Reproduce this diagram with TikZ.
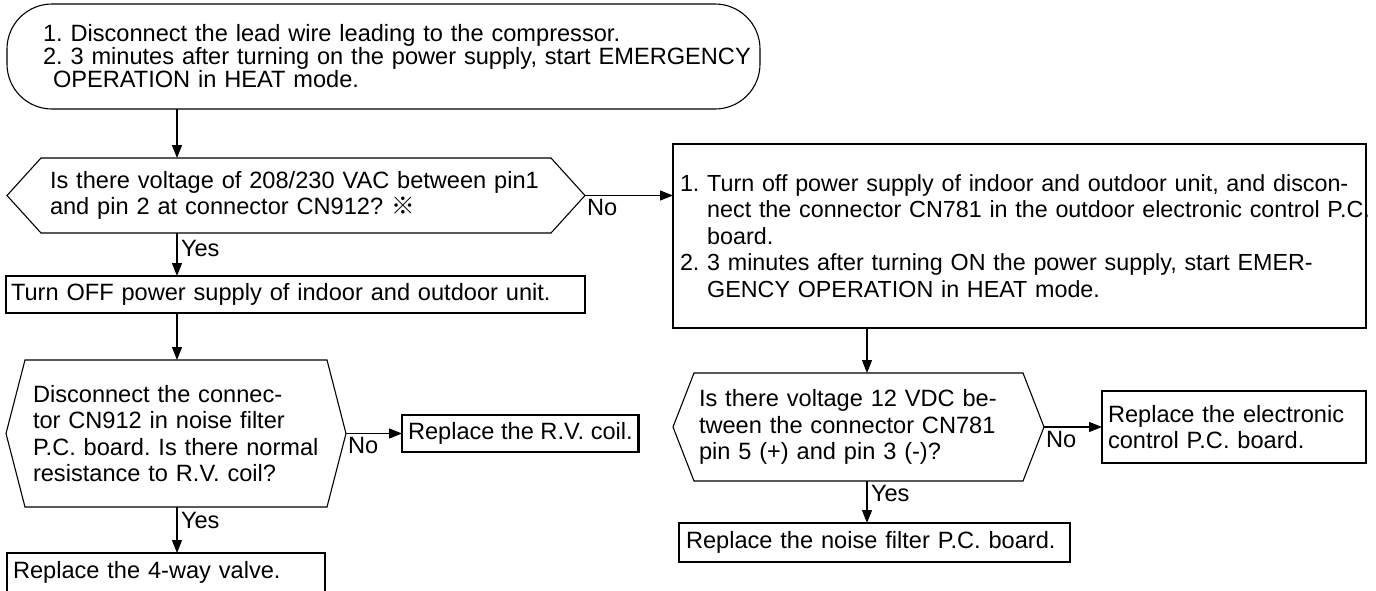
\documentclass[tikz,border=0pt]{standalone}
\usepackage{fontspec}
\setmainfont{Liberation Sans}
\newfontfamily\cjkfont{Noto Sans CJK JP}
\usetikzlibrary{arrows.meta}

% hexagon round a decision node: #1 node, #2 depth of the points
\newcommand{\hexagon}[2]{%
  \draw (#1.west) -- ([xshift=#2pt]#1.north west) -- ([xshift=-#2pt]#1.north east)
    -- (#1.east) -- ([xshift=-#2pt]#1.south east) -- ([xshift=#2pt]#1.south west) -- cycle;}
\newcommand{\numhang}{\hphantom{1.\ }}

\begin{document}
\frenchspacing
\begin{tikzpicture}[x=1pt, y=-1pt, line width=1.1pt,
  every node/.style={font=\fontsize{23.6}{26.5}\selectfont, outer sep=0pt},
  box/.style={draw, align=left, inner ysep=0pt},
  result/.style={box, line width=2.6pt},
  question/.style={align=left, inner ysep=0pt},
  flow/.style={-{Triangle[length=13pt,width=10pt]}},
  answer/.style={anchor=west, inner sep=0pt, xshift=4pt},
  noanswer/.style={anchor=north west, inner sep=0pt, xshift=2pt, yshift=-4pt}]
  \useasboundingbox (0,0) rectangle (1376,590);

  % columns of the vertical connectors
  \coordinate (lcol) at (177,0);
  \coordinate (rcol) at (867,0);

  % start
  \node[box, rounded corners=45pt, minimum width=753pt, minimum height=105pt,
        inner xsep=36pt, text width=681pt,
        font=\fontsize{23.6}{21.5}\selectfont] (start) at (383.5,56.5)
    {\mbox{1. Disconnect the lead wire leading to the compressor.}\\
     \mbox{2. 3 minutes after turning on the power supply, start EMERGENCY}\\
     \hspace*{10pt}OPERATION in HEAT mode.\\[14pt]};

  % left branch
  \node[question, minimum width=578pt, minimum height=75pt, inner xsep=43pt,
        text width=492pt] (vac) at (296,195.5)
    {\mbox{Is there voltage of 208/230 VAC between pin1}\\
     \mbox{and pin 2 at connector CN912? {\cjkfont ※}}};
  \hexagon{vac}{34}

  \node[box, minimum width=579pt, minimum height=37pt, inner xsep=5pt,
        text width=569pt] (poweroff) at (295.5,294.5)
    {Turn OFF power supply of indoor and outdoor unit.};

  \node[question, minimum width=340pt, minimum height=147pt, inner xsep=27pt,
        text width=286pt] (rvcoil) at (176,433.5)
    {Disconnect the connec-\\
     \mbox{tor CN912 in noise filter}\\
     \mbox{P.C. board. Is there normal}\\
     resistance to R.V. coil?};
  \hexagon{rvcoil}{19}

  \node[result, minimum height=37pt, inner xsep=6pt, anchor=west] (replrv) at (402,433.5)
    {Replace the R.V. coil.};
  \node[result, minimum width=318pt, minimum height=39pt, inner xsep=6pt,
        text width=306pt] (replvalve) at (166,572.5)
    {Replace the 4-way valve.};

  % right branch
  \node[box, minimum width=693pt, minimum height=184pt, inner xsep=7pt,
        text width=679pt, font=\fontsize{23.3}{26.5}\selectfont] (cn781) at (1019.5,236)
    {\mbox{1. Turn off power supply of indoor and outdoor unit, and discon-}\\
     \mbox{\numhang nect the connector CN781 in the outdoor electronic control P.C.}\\
     \numhang board.\\
     \mbox{2. 3 minutes after turning ON the power supply, start EMER-}\\
     \mbox{\numhang GENCY OPERATION in HEAT mode.}};

  \node[question, minimum width=371pt, minimum height=108pt, inner xsep=26pt,
        text width=319pt] (vdc) at (858.5,427)
    {Is there voltage 12 VDC be-\\
     \mbox{tween the connector CN781}\\
     \mbox{pin 5 (+) and pin 3 (-)?}\\[2pt]};
  \hexagon{vdc}{21}

  \node[result, minimum width=264pt, minimum height=72pt, inner xsep=6pt,
        text width=252pt] (replpcb) at (1234,427)
    {Replace the electronic\\control P.C. board.};
  \node[result, minimum width=391pt, minimum height=39pt, inner xsep=7pt,
        text width=377pt] (replnf) at (874.5,542.5)
    {Replace the noise filter P.C. board.};

  % connectors
  \draw[flow] (start.south -| lcol) -- (vac.north -| lcol);
  \draw[flow] (vac.south -| lcol) -- node[answer, pos=0.35] (yes1) {Yes} (poweroff.north -| lcol);
  \draw[flow] (poweroff.south -| lcol) -- (rvcoil.north -| lcol);
  \draw[flow] (rvcoil.south -| lcol) -- node[answer, pos=0.3] (yes2) {Yes} (replvalve.north -| lcol);
  \draw[flow] (rvcoil.east) -- (replrv.west);
  \node[noanswer] (no2) at (rvcoil.east) {No};

  \draw[flow] (vac.east) -- (vac.east -| cn781.west);
  \node[noanswer] (no1) at (vac.east) {No};
  \draw[flow] (cn781.south -| rcol) -- (vdc.north -| rcol);
  \draw[flow] (vdc.south -| rcol) -- node[answer, pos=0.3] (yes3) {Yes} (replnf.north -| rcol);
  \draw[flow] (vdc.east) -- (replpcb.west);
  \node[noanswer] (no3) at (vdc.east) {No};
\end{tikzpicture}
\end{document}
